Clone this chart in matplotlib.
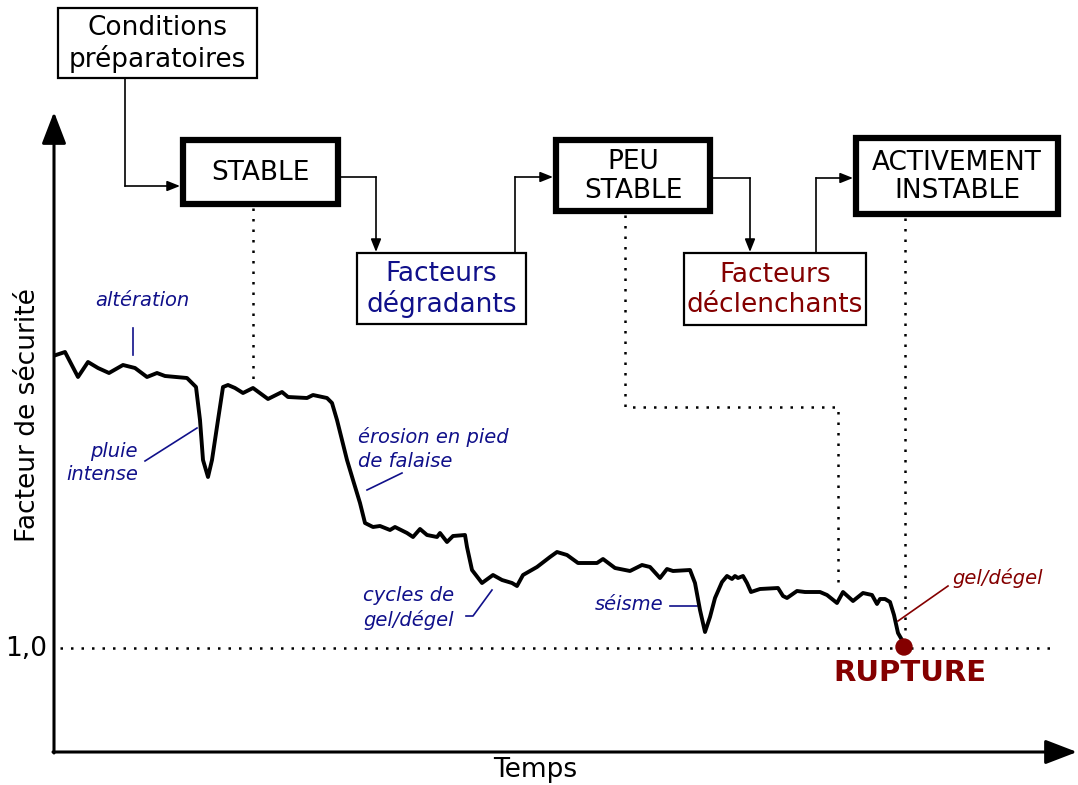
import matplotlib.pyplot as plt
from matplotlib.patches import Rectangle, Circle

# curve of the safety factor over time (traced in image units, y grows downwards)
temps = [56, 65, 78, 88, 98, 109, 123, 135, 147, 157, 165, 187, 196, 200, 203, 208,
         212, 218, 223, 228, 235, 243, 253, 268, 282, 288, 307, 313, 327, 332, 337,
         347, 353, 360, 365, 373, 380, 390, 395, 407, 413, 420, 427, 437, 440, 447,
         453, 465, 467, 472, 482, 493, 502, 512, 517, 523, 537, 550, 557, 567, 578,
         597, 603, 615, 630, 642, 650, 660, 667, 673, 690, 695, 700, 705, 710, 715,
         722, 727, 732, 735, 738, 743, 747, 751, 760, 778, 783, 787, 797, 805, 820,
         827, 837, 843, 853, 863, 872, 877, 880, 885, 890, 894, 898, 902]
facteur = [355, 352, 377, 362, 368, 373, 365, 368, 377, 373, 376, 378, 387, 420, 460, 477,
           460, 420, 387, 385, 388, 393, 388, 399, 392, 397, 398, 395, 398, 403, 420,
           460, 480, 503, 523, 527, 526, 530, 527, 533, 537, 529, 535, 537, 533, 542,
           536, 535, 547, 570, 583, 575, 580, 583, 586, 575, 567, 557, 552, 555, 563,
           563, 559, 568, 571, 565, 567, 578, 569, 571, 570, 583, 610, 632, 617, 598,
           582, 576, 579, 576, 578, 576, 583, 592, 589, 588, 596, 598, 591, 592, 592,
           595, 603, 592, 601, 593, 595, 604, 599, 599, 602, 615, 633, 640]
niveau_rupture = 648
point_rupture = (904, 647)

etats = ['STABLE', 'PEU\nSTABLE', 'ACTIVEMENT\nINSTABLE']
facteurs = ['Facteurs\ndégradants', 'Facteurs\ndéclenchants']

navy = '#10108a'
darkred = '#840000'

fig = plt.figure(figsize=(10.78, 7.85), dpi=100)
ax = fig.add_axes([0, 0, 1, 1])
ax.set_xlim(0, 1078)
ax.set_ylim(785, 0)
ax.axis('off')

# axes with arrows
arrow_axis = dict(arrowstyle='-|>,head_length=0.65,head_width=0.25', lw=2.2,
                  color='black', shrinkA=0, shrinkB=0, mutation_scale=30)
ax.annotate('', xy=(54, 112), xytext=(54, 753), arrowprops=arrow_axis)
ax.annotate('', xy=(1077, 752), xytext=(53, 752), arrowprops=arrow_axis)
ax.text(535, 770, 'Temps', fontsize=19, ha='center', va='center')
ax.text(28, 415, 'Facteur de sécurité', fontsize=19, ha='center', va='center', rotation=90)
ax.text(47, 649, '1,0', fontsize=19, ha='right', va='center')

dots = dict(color='black', lw=1.8, linestyle=(0, (1, 3.2)))
ax.plot([60, 1052], [niveau_rupture, niveau_rupture], **dots)
ax.plot([253, 253], [208, 380], **dots)
ax.plot([625, 625, 838, 838], [215, 407, 407, 590], **dots)
ax.plot([905, 905], [218, 630], **dots)

# curve
ax.plot(temps, facteur, color='black', lw=2.8, solid_joinstyle='round', zorder=5)
ax.add_patch(Circle(point_rupture, 8, color=darkred, zorder=6))
ax.text(910, 673, 'RUPTURE', fontsize=21, fontweight='bold', color=darkred,
        ha='center', va='center')

# boxes
def box(x0, y0, x1, y1, txt, lw, color='black'):
    ax.add_patch(Rectangle((x0, y0), x1 - x0, y1 - y0, fill=False, lw=lw,
                           edgecolor='black', joinstyle='miter', zorder=4))
    ax.text((x0 + x1) / 2, (y0 + y1) / 2 + 1, txt, fontsize=19, color=color,
            ha='center', va='center', linespacing=1.15)

box(58, 8, 257, 78, 'Conditions\npréparatoires', 1.6)
box(183, 140, 338, 204, etats[0], 4.5)
box(556, 140, 710, 211, etats[1], 4.5)
box(856, 138, 1058, 214, etats[2], 4.5)
box(357, 253, 526, 324, facteurs[0], 1.6, navy)
box(684, 253, 866, 325, facteurs[1], 1.6, darkred)

# connectors
conn = dict(arrowstyle='-|>,head_length=0.55,head_width=0.22', lw=1.2, color='black',
            shrinkA=0, shrinkB=0, mutation_scale=14)
def elbow(xs, ys):
    ax.plot(xs[:-1], ys[:-1], color='black', lw=1.2)
    ax.annotate('', xy=(xs[-1], ys[-1]), xytext=(xs[-2], ys[-2]), arrowprops=conn)

elbow([125, 125, 180], [78, 186, 186])
elbow([340, 376, 376], [177, 177, 252])
elbow([515, 515, 553], [253, 177, 177])
elbow([712, 750, 750], [178, 178, 252])
elbow([816, 816, 853], [253, 178, 178])

# annotations
ann = dict(fontsize=14, style='italic', color=navy)
ax.text(142, 300, 'altération', ha='center', va='center', **ann)
ax.plot([133, 133], [328, 355], color=navy, lw=1.2)
ax.text(138, 463, 'pluie\nintense', ha='right', va='center', linespacing=1.3, **ann)
ax.plot([145, 197], [461, 428], color=navy, lw=1.2)
ax.text(358, 449, 'érosion en pied\nde falaise', ha='left', va='center', linespacing=1.3, **ann)
ax.plot([367, 402], [490, 473], color=navy, lw=1.2)
ax.text(454, 608, 'cycles de\ngel/dégel', ha='right', va='center', linespacing=1.3, **ann)
ax.plot([466, 473, 492], [616, 616, 590], color=navy, lw=1.2)
ax.text(663, 605, 'séisme', ha='right', va='center', **ann)
ax.plot([670, 697], [606, 606], color=navy, lw=1.2)
ax.text(952, 578, 'gel/dégel', ha='left', va='center', fontsize=14, style='italic', color=darkred)
ax.plot([898, 948], [621, 586], color=darkred, lw=1.2)

fig.savefig('out.png', dpi=100)
